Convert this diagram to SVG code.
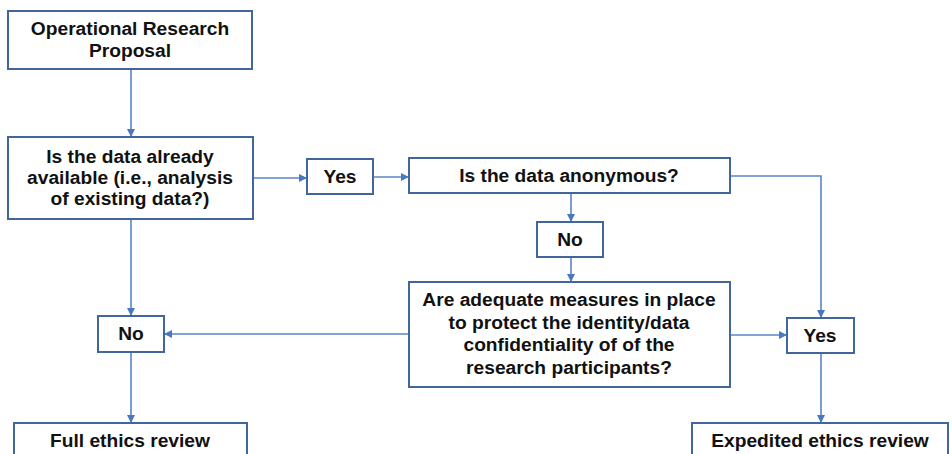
<svg xmlns="http://www.w3.org/2000/svg" width="952" height="454" viewBox="0 0 952 454">
  <style>
    .box { fill: #ffffff; stroke: #41669c; stroke-width: 2; }
    .lbl { font-family: "Liberation Sans", Arial, sans-serif; font-weight: bold; font-size: 19.2px; fill: #111111; text-anchor: middle; }
    .conn { fill: none; stroke: #5a86c6; stroke-width: 1.6; marker-end: url(#arrow); }
  </style>
  <defs>
    <marker id="arrow" viewBox="0 0 10 10" refX="10" refY="5" markerWidth="8" markerHeight="8" markerUnits="userSpaceOnUse" orient="auto">
      <path d="M0,0 L10,5 L0,10 z" fill="#4a78c0"/>
    </marker>
  </defs>
  <rect width="952" height="454" fill="#ffffff"/>

  <g id="connectors">
    <path class="conn" d="M131,69 V137"/>
    <path class="conn" d="M253,178 H307"/>
    <path class="conn" d="M373,177 H409"/>
    <path class="conn" d="M571,193 V222"/>
    <path class="conn" d="M571,257 V282"/>
    <path class="conn" d="M730,176 H821 V318"/>
    <path class="conn" d="M730,335 H787"/>
    <path class="conn" d="M409,334 H164"/>
    <path class="conn" d="M131,219 V316"/>
    <path class="conn" d="M131,352 V423"/>
    <path class="conn" d="M821,353 V423"/>
  </g>

  <g id="proposal">
    <rect class="box" x="8" y="11" width="244" height="58"/>
    <text class="lbl" x="130" y="35">Operational Research</text>
    <text class="lbl" x="130" y="57">Proposal</text>
  </g>

  <g id="data-available">
    <rect class="box" x="8" y="137" width="245" height="82"/>
    <text class="lbl" x="130" y="163">Is the data already</text>
    <text class="lbl" x="130" y="184">available (i.e., analysis</text>
    <text class="lbl" x="130" y="205">of existing data?)</text>
  </g>

  <g id="yes-available">
    <rect class="box" x="307" y="159" width="66" height="35"/>
    <text class="lbl" x="340" y="183">Yes</text>
  </g>

  <g id="data-anonymous">
    <rect class="box" x="409" y="158" width="321" height="35"/>
    <text class="lbl" x="569" y="182">Is the data anonymous?</text>
  </g>

  <g id="no-anonymous">
    <rect class="box" x="537" y="222" width="66" height="35"/>
    <text class="lbl" x="570" y="246">No</text>
  </g>

  <g id="measures">
    <rect class="box" x="409" y="282" width="321" height="105"/>
    <text class="lbl" x="569" y="306">Are adequate measures in place</text>
    <text class="lbl" x="569" y="328.5">to protect the identity/data</text>
    <text class="lbl" x="569" y="351">confidentiality of of the</text>
    <text class="lbl" x="569" y="373.5">research participants?</text>
  </g>

  <g id="no-measures">
    <rect class="box" x="98" y="316" width="66" height="36"/>
    <text class="lbl" x="131" y="340">No</text>
  </g>

  <g id="yes-measures">
    <rect class="box" x="787" y="318" width="67" height="35"/>
    <text class="lbl" x="820" y="342">Yes</text>
  </g>

  <g id="full-review">
    <rect class="box" x="14" y="423" width="233" height="50"/>
    <text class="lbl" x="130" y="447">Full ethics review</text>
  </g>

  <g id="expedited-review">
    <rect class="box" x="692" y="423" width="256" height="50"/>
    <text class="lbl" x="820" y="447">Expedited ethics review</text>
  </g>
</svg>
